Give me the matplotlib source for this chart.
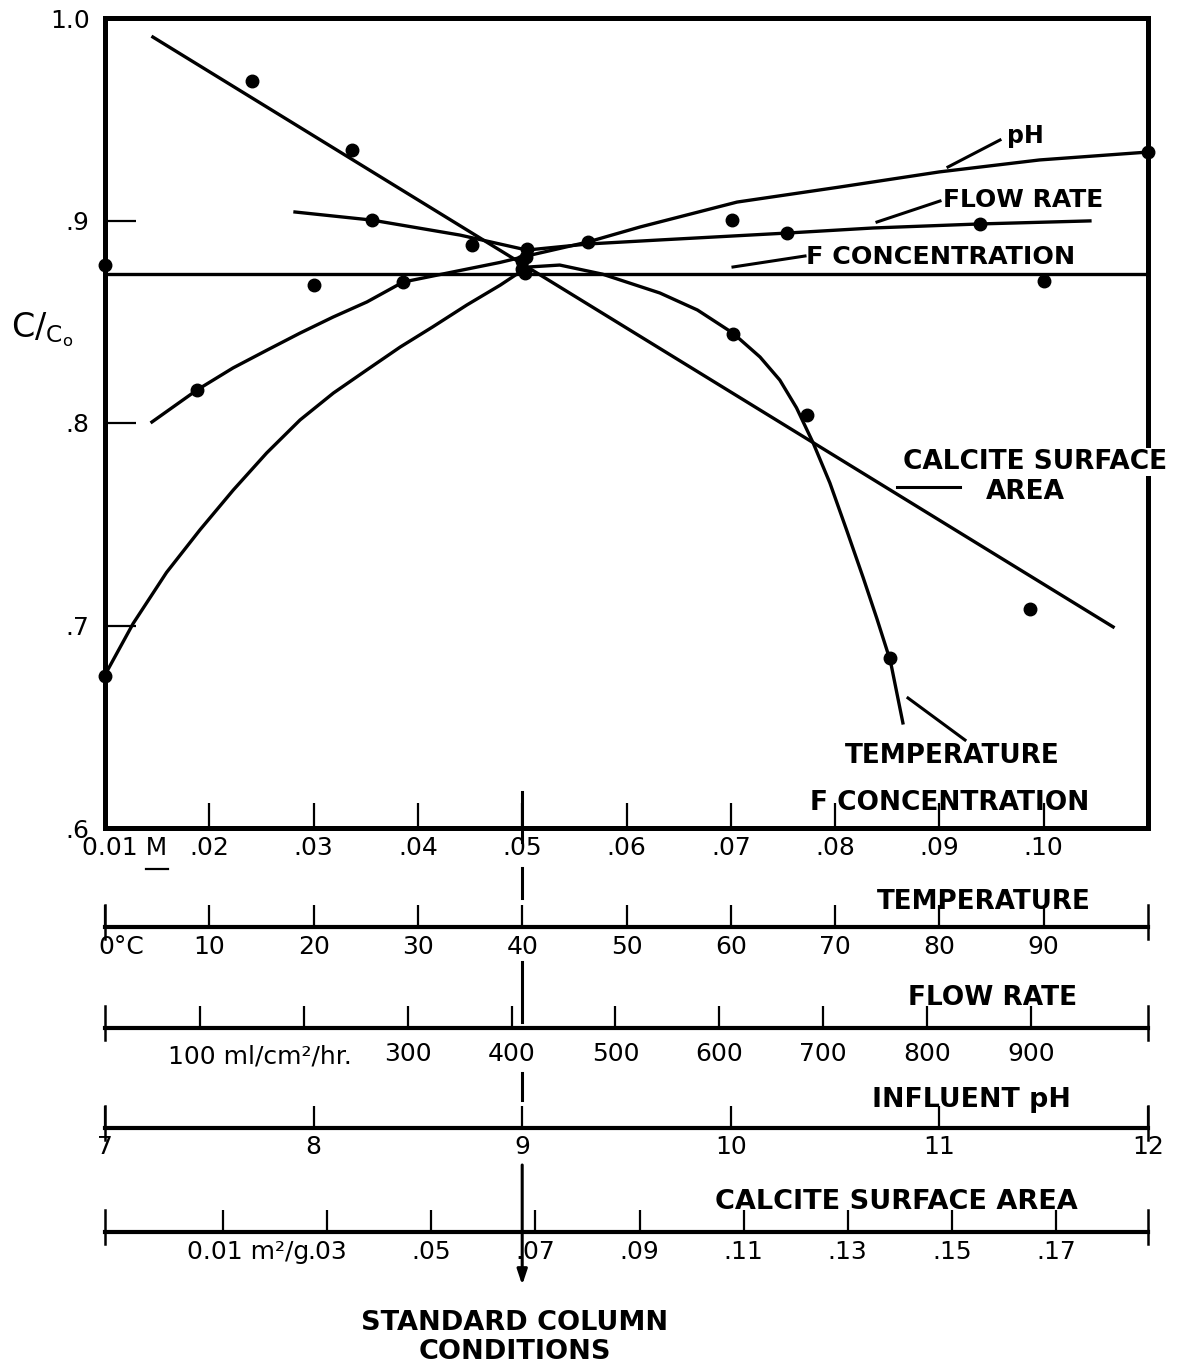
import matplotlib
matplotlib.use('Agg')
import matplotlib.pyplot as plt
from matplotlib.transforms import ScaledTranslation, blended_transform_factory

# ---------------- data ----------------
Y_LIM = (0.6, 1.0)
y_ticks = [0.6, 0.7, 0.8, 0.9, 1.0]
y_ticklabels = ['.6', '.7', '.8', '.9', '1.0']

# F concentration (M)
FCONC_LIM = (0.01, 0.11)
fconc_ticks = [0.01, 0.02, 0.03, 0.04, 0.05, 0.06, 0.07, 0.08, 0.09, 0.10]
fconc_ticklabels = ['0.01 M', '.02', '.03', '.04', '.05', '.06', '.07', '.08', '.09', '.10']
fconc_line_x = [0.01, 0.11]
fconc_line_y = [0.8736, 0.8736]
fconc_pts_x = [0.01, 0.03, 0.05, 0.10]
fconc_pts_y = [0.878, 0.868, 0.876, 0.870]

# Temperature (deg C)
TEMP_LIM = (0, 100)
temp_ticks = [0, 10, 20, 30, 40, 50, 60, 70, 80, 90]
temp_ticklabels = ['0°C', '10', '20', '30', '40', '50', '60', '70', '80', '90']
temp_curve_x = [0, 2.7, 5.9, 9.1, 12.3, 15.5, 18.7, 21.9, 25.1, 28.3, 31.4, 34.7, 37.9, 40.5,
                43.6, 47.7, 53.2, 56.8, 60.2, 62.8, 64.7, 66.3, 67.9, 69.5, 71.1, 72.7,
                74.0, 75.3, 76.5]
temp_curve_y = [0.6756, 0.7010, 0.7262, 0.7472, 0.7669, 0.7852, 0.8015, 0.8148, 0.8262,
                0.8375, 0.8474, 0.8583, 0.8681, 0.8770, 0.8780, 0.8735, 0.8642, 0.8558,
                0.8444, 0.8326, 0.8212, 0.8075, 0.7901, 0.7704, 0.7472, 0.7235, 0.7035,
                0.6825, 0.6519]
temp_pts_x = [0, 40, 60.2, 67.3, 75.3]
temp_pts_y = [0.675, 0.880, 0.844, 0.804, 0.684]

# Flow rate (ml/cm2/hr)
FLOW_LIM = (8.6, 1012.7)
flow_ticks = [100, 200, 300, 400, 500, 600, 700, 800, 900]
flow_ticklabels = ['', '', '300', '400', '500', '600', '700', '800', '900']
flow_curve_x = [191.5, 265.6, 350.4, 414.8, 473.5, 542.9, 665.1, 747.9, 850.9, 956.8]
flow_curve_y = [0.9042, 0.9002, 0.8928, 0.8854, 0.8884, 0.8904, 0.8938, 0.8963, 0.8983, 0.8998]
flow_pts_x = [265.6, 361.9, 414.8, 665.1, 850.9]
flow_pts_y = [0.9002, 0.8879, 0.8860, 0.8938, 0.8983]

# Influent pH
PH_LIM = (7, 12)
ph_ticks = [7, 8, 9, 10, 11, 12]
ph_ticklabels = ['7', '8', '9', '10', '11', '12']
ph_curve_x = [7.225, 7.441, 7.614, 7.777, 7.935, 8.093, 8.256, 8.429, 8.572, 8.735, 8.894,
              9.023, 9.315, 9.565, 10.03, 10.52, 11.00, 11.48, 12.0]
ph_curve_y = [0.8005, 0.8163, 0.8272, 0.8360, 0.8444, 0.8523, 0.8598, 0.8696, 0.8726, 0.8760,
              0.8793, 0.8825, 0.8894, 0.8968, 0.9091, 0.9165, 0.9240, 0.9299, 0.9338]
ph_pts_x = [7.441, 8.429, 9.02, 9.315, 10.006, 12.0]
ph_pts_y = [0.8163, 0.8696, 0.8820, 0.8894, 0.9002, 0.9338]

# Calcite surface area (m2/g)
CALC_LIM = (-0.0127, 0.1877)
calc_ticks = [0.01, 0.03, 0.05, 0.07, 0.09, 0.11, 0.13, 0.15, 0.17]
calc_ticklabels = ['0.01 m²/g', '.03', '.05', '.07', '.09', '.11', '.13', '.15', '.17']
calc_line_x = [-0.0035, 0.181]
calc_line_y = [0.9906, 0.6993]
calc_pts_x = [0.0156, 0.0347, 0.068, 0.165]
calc_pts_y = [0.969, 0.935, 0.874, 0.708]

STD_FCONC = 0.05   # standard column conditions

# ---------------- figure ----------------
W, H, DPI = 1178, 1368, 100
plt.rcParams['font.family'] = ['DejaVu Sans']
fig = plt.figure(figsize=(W / DPI, H / DPI), dpi=DPI)
fig.patch.set_facecolor('white')


def fx(px):
    return px / W


def fy(py):
    return 1 - py / H


L, R, TOP, BOT = 105, 1148, 18, 828
pos = [fx(L), fy(BOT), fx(R) - fx(L), fy(TOP) - fy(BOT)]
LW_CURVE = 2.4
MS = 9
FS = 18

ax = fig.add_axes(pos)
ax.set_xlim(*FCONC_LIM)
ax.set_ylim(*Y_LIM)
for s in ax.spines.values():
    s.set_linewidth(3.6)
ax.set_yticks(y_ticks)
ax.set_yticklabels(y_ticklabels, fontsize=FS)
ax.tick_params(axis='y', direction='in', length=22, width=1.6, pad=11)
ax.set_xticks(fconc_ticks)
ax.set_xticklabels(fconc_ticklabels, fontsize=FS)
ax.tick_params(axis='x', direction='in', length=18, width=1.6, pad=6)
lbl = ax.get_xticklabels()[0]
lbl.set_transform(lbl.get_transform() + ScaledTranslation(20 / DPI, 0, fig.dpi_scale_trans))

ax.plot(fconc_line_x, fconc_line_y, color='black', lw=LW_CURVE)
ax.plot(fconc_pts_x, fconc_pts_y, 'o', color='black', ms=MS, clip_on=False)


def overlay(lim):
    a = fig.add_axes(pos, frameon=False)
    a.set_xlim(*lim)
    a.set_ylim(*Y_LIM)
    a.axis('off')
    return a


for lim, cx, cy, px_, py_ in [
    (TEMP_LIM, temp_curve_x, temp_curve_y, temp_pts_x, temp_pts_y),
    (FLOW_LIM, flow_curve_x, flow_curve_y, flow_pts_x, flow_pts_y),
    (PH_LIM, ph_curve_x, ph_curve_y, ph_pts_x, ph_pts_y),
    (CALC_LIM, calc_line_x, calc_line_y, calc_pts_x, calc_pts_y),
]:
    a = overlay(lim)
    a.plot(cx, cy, color='black', lw=LW_CURVE, solid_joinstyle='round')
    a.plot(px_, py_, 'o', color='black', ms=MS, clip_on=False)


def scale_axis(py, lim, ticks, labels, pad=7, first_shift=0):
    h = 30
    a = fig.add_axes([fx(L), fy(py), fx(R) - fx(L), h / H], facecolor='none')
    a.set_xlim(*lim)
    a.set_ylim(0, 1)
    for k in ['top', 'left', 'right']:
        a.spines[k].set_visible(False)
    a.spines['bottom'].set_linewidth(3.0)
    a.set_yticks([])
    a.set_xticks(ticks)
    a.set_xticklabels(labels, fontsize=FS)
    a.tick_params(axis='x', direction='in', length=16, width=1.6, pad=pad)
    if first_shift:
        t = a.get_xticklabels()[0]
        t.set_transform(t.get_transform() + ScaledTranslation(first_shift / DPI, 0, fig.dpi_scale_trans))
    tr = blended_transform_factory(a.transData, a.transAxes)
    for xe in lim:
        a.plot([xe, xe], [-12 / h, 22 / h], color='black', lw=1.8, transform=tr, clip_on=False)
    return a


scale_axis(927, TEMP_LIM, temp_ticks, temp_ticklabels, pad=6, first_shift=16)
scale_axis(1028, FLOW_LIM, flow_ticks, flow_ticklabels, pad=10)
scale_axis(1128, PH_LIM, ph_ticks, ph_ticklabels, pad=5)
scale_axis(1232, CALC_LIM, calc_ticks, calc_ticklabels, pad=6, first_shift=25)

# annotation overlay in pixel coordinates
axp = fig.add_axes([0, 0, 1, 1], frameon=False)
axp.set_xlim(0, W)
axp.set_ylim(H, 0)
axp.axis('off')

fig.text(fx(260), fy(1057), '100 ml/cm²/hr.', fontsize=FS, ha='center', va='center')

# underline of M
axp.plot([146, 168], [869, 869], color='black', lw=1.6)

# y label
fig.text(fx(42), fy(330), r'$\mathregular{C/_{C_o}}$', fontsize=24, ha='center', va='center')


def blabel(t, cx, cy, size, **kw):
    fig.text(fx(cx), fy(cy), t, fontsize=size, fontweight='bold', ha='center', va='center', **kw)


labels = [
    ('pH', 1025, 136, 17), ('FLOW RATE', 1023, 200, 18), ('F CONCENTRATION', 941, 257, 18.3),
    ('AREA', 1025, 492, 19), ('TEMPERATURE', 952, 756, 18.9),
    ('F CONCENTRATION', 950, 803, 19), ('TEMPERATURE', 984, 902, 18.8), ('FLOW RATE', 993, 998, 19),
    ('INFLUENT pH', 971, 1100, 19.3), ('CALCITE SURFACE AREA', 896, 1202, 19.5),
    ('STANDARD COLUMN', 515, 1323, 19.5), ('CONDITIONS', 515, 1352, 19.5),
]
for t, cx, cy, sz in labels:
    blabel(t, cx, cy, sz)
blabel('CALCITE SURFACE', 1035, 462, 19, bbox=dict(facecolor='white', edgecolor='none', pad=1))

leaders = [((948, 167), (1000, 140)), ((877, 222), (940, 201)), ((733, 267), (805, 256)),
           ((897, 487), (960, 487)), ((908, 698), (965, 740))]
for (x0, y0), (x1, y1) in leaders:
    axp.plot([x0, x1], [y0, y1], color='black', lw=2.2)

# standard column conditions line
std_px = L + (STD_FCONC - FCONC_LIM[0]) / (FCONC_LIM[1] - FCONC_LIM[0]) * (R - L)
for y0, y1 in [(792, 842), (868, 898), (962, 1022), (1073, 1100)]:
    axp.plot([std_px, std_px], [y0, y1], color='black', lw=2.2)
axp.annotate('', xy=(std_px, 1285), xytext=(std_px, 1165),
             arrowprops=dict(arrowstyle='-|>,head_length=0.9,head_width=0.3',
                             color='black', lw=2.2, shrinkA=0, shrinkB=0))

fig.savefig('out.png', dpi=DPI, facecolor='white')
